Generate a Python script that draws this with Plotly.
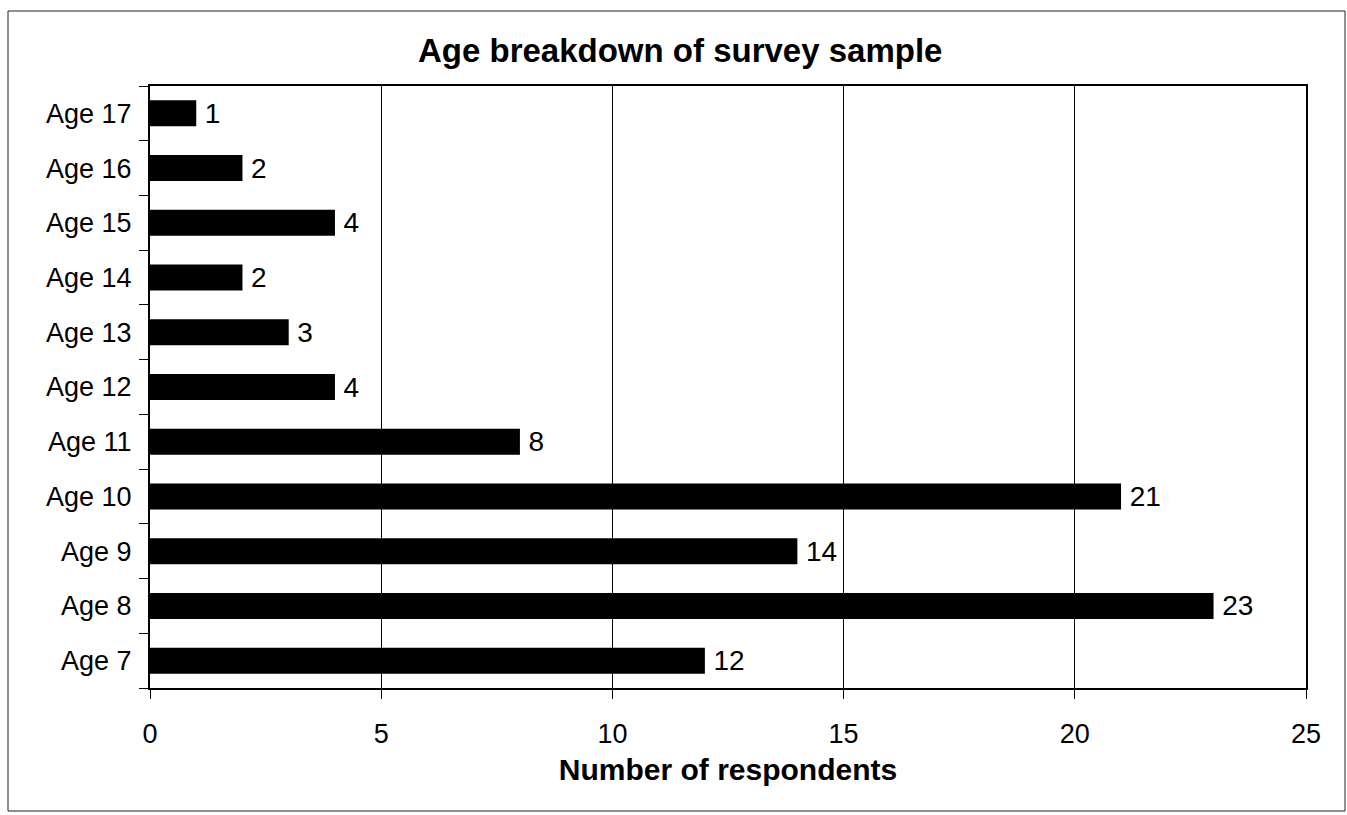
import plotly.graph_objects as go

categories = ["Age 7", "Age 8", "Age 9", "Age 10", "Age 11", "Age 12",
              "Age 13", "Age 14", "Age 15", "Age 16", "Age 17"]
respondents = [12, 23, 14, 21, 8, 4, 3, 2, 4, 2, 1]
x_ticks = [0, 5, 10, 15, 20, 25]

FONT = "Arial, 'Liberation Sans', sans-serif"

fig = go.Figure(
    go.Bar(
        y=categories,
        x=respondents,
        orientation="h",
        marker=dict(color="black", line=dict(width=0)),
        text=["\u2009" + str(v) for v in respondents],
        textposition="outside",
        constraintext="none",
        textfont=dict(family=FONT, size=28, color="black"),
        cliponaxis=False,
    )
)

W, H = 1347, 815
L, R, T, B = 150, 41, 86, 127
pw, ph = W - L - R, H - T - B

def px_to_paper_x(px):
    return (px - L) / pw

def px_to_paper_y(py):
    return (H - B - py) / ph

fig.update_layout(
    width=W, height=H,
    margin=dict(l=L, r=R, t=T, b=B, pad=0),
    paper_bgcolor="white", plot_bgcolor="white",
    bargap=0.525,
    showlegend=False,
    font=dict(family=FONT, color="black"),
    title=dict(
        text="<b>Age breakdown of survey sample</b>",
        font=dict(family=FONT, size=33, color="black"),
        x=0.505, xref="container", xanchor="center",
        y=1 - 50 / H, yref="container", yanchor="middle",
    ),
    xaxis=dict(
        range=[0, 25], tickvals=x_ticks, ticktext=[str(v) for v in x_ticks],
        showgrid=True, gridcolor="black", gridwidth=1, zeroline=False,
        showline=True, linecolor="black", linewidth=2, mirror=True,
        ticks="outside", ticklen=9, tickwidth=1, tickcolor="black",
        tickfont=dict(family=FONT, size=27, color="black"),
        ticklabelstandoff=12,
        title=dict(text="<b>Number of respondents</b>",
                   font=dict(family=FONT, size=30, color="black"),
                   standoff=11),
    ),
    yaxis=dict(
        type="category",
        showgrid=False, zeroline=False,
        showline=True, linecolor="black", linewidth=2, mirror=True,
        ticks="outside", tickson="boundaries", ticklen=9, tickwidth=1, tickcolor="black",
        tickfont=dict(family=FONT, size=27, color="black"),
        ticklabelstandoff=11,
    ),
    shapes=[dict(
        type="rect", xref="paper", yref="paper",
        x0=px_to_paper_x(8), x1=px_to_paper_x(1345),
        y0=px_to_paper_y(811), y1=px_to_paper_y(11),
        line=dict(color="#222222", width=1), fillcolor="rgba(0,0,0,0)",
        layer="below",
    )],
)

fig.write_html(
    "out.html",
    config={"displayModeBar": False},
    post_script="document.body.style.margin='0';document.body.style.overflow='hidden';",
)
